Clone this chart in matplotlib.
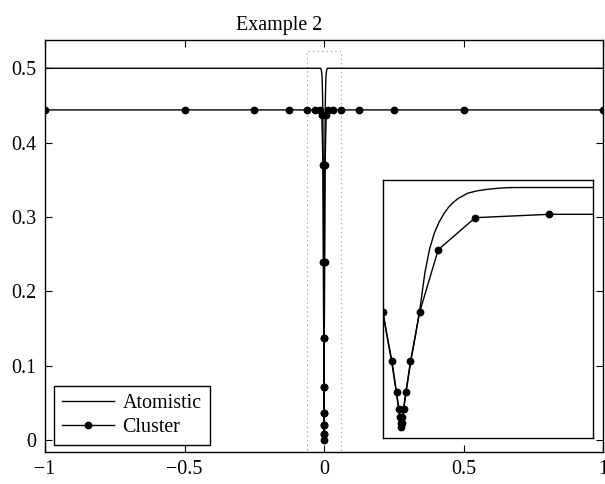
import matplotlib
matplotlib.use("Agg")
import matplotlib.pyplot as plt
from matplotlib.patches import Rectangle

plt.rcParams['font.family'] = ['Liberation Serif', 'DejaVu Serif']
plt.rcParams['mathtext.fontset'] = 'stix'

# ---- data ----
title = "Example 2"
xticks = [-1, -0.5, 0, 0.5, 1]
xticklabels = ["\u22121", "\u22120.5", "0", "0.5", "1"]
yticks = [0, 0.1, 0.2, 0.3, 0.4, 0.5]
yticklabels = ["0", "0.1", "0.2", "0.3", "0.4", "0.5"]

atom_x = [-1.0, -0.012, -0.011, -0.010, -0.009, -0.008, -0.007, -0.006, -0.0055,
          -0.005, -0.0045, -0.004, -0.0035, -0.003, -0.0025, -0.002, -0.0015,
          -0.001, -0.0005, 0.0, 0.0005, 0.001, 0.0015, 0.002, 0.0025, 0.003,
          0.0035, 0.004, 0.0045, 0.005, 0.0055, 0.006, 0.007, 0.008, 0.009,
          0.010, 0.011, 0.012, 1.0]
atom_y = [0.5, 0.5, 0.4995, 0.498, 0.496, 0.493, 0.488, 0.477, 0.469,
          0.459, 0.445, 0.428, 0.405, 0.372, 0.322, 0.25, 0.19,
          0.135, 0.07, 0.0, 0.07, 0.135, 0.19, 0.25, 0.322, 0.372,
          0.405, 0.428, 0.445, 0.459, 0.469, 0.477, 0.488, 0.493, 0.496,
          0.498, 0.4995, 0.5, 0.5]

cluster_x = [-1.0, -0.5, -0.25, -0.125, -0.0625, -0.03125, -0.015625,
             -0.0078125, -0.00390625, -0.001953125, -0.0009765625,
             -0.00048828125, -0.000244140625, -0.0001220703125,
             -0.00006103515625, 0.0,
             0.00006103515625, 0.0001220703125, 0.000244140625,
             0.00048828125, 0.0009765625, 0.001953125, 0.00390625,
             0.0078125, 0.015625, 0.03125, 0.0625, 0.125, 0.25, 0.5, 1.0]
cluster_y = [0.444, 0.444, 0.444, 0.444, 0.444, 0.444, 0.444,
             0.437, 0.37, 0.24, 0.137,
             0.072, 0.037, 0.02,
             0.008, 0.0,
             0.008, 0.02, 0.037,
             0.072, 0.137, 0.24, 0.37,
             0.437, 0.444, 0.444, 0.444, 0.444, 0.444, 0.444, 0.444]

legend_labels = ["Atomistic", "Cluster"]

# zoom box / inset ranges
box_x = (-0.0625, 0.0625)
box_y = (-0.016, 0.5226)
inset_xlim = (-0.00195, 0.0202)
inset_ylim = (-0.024, 0.5157)

FS = 14.4
LW = 1.0
MS = 4.6

fig = plt.figure(figsize=(6.05, 4.84), dpi=100)
ax = fig.add_axes([45/605, (484-452)/484, 558/605, 412/484])

ax.plot(atom_x, atom_y, color='black', lw=LW, label=legend_labels[0], zorder=3)
ax.plot(cluster_x, cluster_y, color='black', lw=LW, marker='o', ms=MS,
        label=legend_labels[1], zorder=2)

ax.add_patch(Rectangle((box_x[0], box_y[0]), box_x[1]-box_x[0], box_y[1]-box_y[0],
                       fill=False, ec='0.55', lw=0.8, ls=(0, (1, 3)), zorder=1))

ax.set_xlim(-1, 1)
ax.set_ylim(-0.016, 0.538)
ax.set_xticks(xticks)
ax.set_xticklabels(xticklabels)
ax.set_yticks(yticks)
ax.set_yticklabels(yticklabels)
ax.tick_params(direction='in', top=True, right=True, length=5, width=0.8,
               labelsize=FS, pad=6)
for s in ax.spines.values():
    s.set_linewidth(1.0)
ax.set_title(title, fontsize=FS, x=(279-45)/558, pad=7)

leg = ax.legend(loc='lower left', bbox_to_anchor=(0.016, 0.017), borderaxespad=0,
                fancybox=False, edgecolor='black', framealpha=1, fontsize=FS,
                handlelength=2.6, handletextpad=0.4, labelspacing=0.22,
                borderpad=0.42)
leg.get_frame().set_linewidth(1.0)

# inset
axi = fig.add_axes([382.7/605, (484-438.3)/484, 210/605, 258.3/484])
axi.plot(atom_x, atom_y, color='black', lw=LW, zorder=3)
axi.plot(cluster_x, cluster_y, color='black', lw=LW, marker='o', ms=MS, zorder=2)
axi.set_xlim(*inset_xlim)
axi.set_ylim(*inset_ylim)
axi.set_xticks([])
axi.set_yticks([])
for s in axi.spines.values():
    s.set_linewidth(1.0)

fig.savefig("out.png", dpi=100)
